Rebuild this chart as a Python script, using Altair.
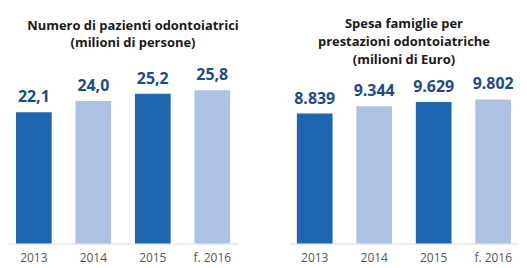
import altair as alt
import pandas as pd

years = ["2013", "2014", "2015", "f. 2016"]
patients = [22.1, 24.0, 25.2, 25.8]          # milioni di persone
spending = [8839, 9344, 9629, 9802]          # milioni di Euro

patients_labels = [f"{v:.1f}".replace(".", ",") for v in patients]
spending_labels = [f"{v:,}".replace(",", ".") for v in spending]

title_left = ["Numero di pazienti odontoiatrici", "(milioni di persone)"]
title_right = ["Spesa famiglie per", "prestazioni odontoiatriche", "(milioni di Euro)"]

FONT = "Open Sans"
DARK = "#1f66b1"
LIGHT = "#adc2e3"
LABEL = "#1d4a88"


def panel(values, labels, title_lines, ymax, offset, title_dx):
    df = pd.DataFrame({"year": years, "value": values, "label": labels})
    base = alt.Chart(df).encode(
        x=alt.X(
            "year:N",
            sort=years,
            title=None,
            scale=alt.Scale(paddingInner=0.4, paddingOuter=0.134),
            axis=alt.Axis(
                labelAngle=0,
                ticks=False,
                domainColor="#dcdcdc",
                domainWidth=1,
                labelColor="#555555",
                labelFontSize=12,
                labelFont=FONT,
                labelPadding=9,
            ),
        ),
        y=alt.Y("value:Q", scale=alt.Scale(domain=[0, ymax], nice=False), axis=None),
    )
    bars = base.mark_bar().encode(
        color=alt.Color(
            "year:N",
            scale=alt.Scale(domain=years, range=[DARK, LIGHT, DARK, LIGHT]),
            legend=None,
        )
    )
    text = base.mark_text(
        baseline="bottom",
        dy=-7,
        fontSize=16,
        fontWeight="bold",
        font=FONT,
        color=LABEL,
    ).encode(text="label:N")
    return alt.layer(bars, text).properties(
        width=231,
        height=173,
        title=alt.TitleParams(
            title_lines,
            offset=offset,
            dx=title_dx,
            fontSize=13,
            font=FONT,
            fontWeight="bold",
            color="#1a1a1a",
            lineHeight=18,
            anchor="middle",
        ),
    )


left = panel(patients, patients_labels, title_left, 29.0, 17, 10)
right = panel(spending, spending_labels, title_right, 11720, 4, 0)

chart = (
    alt.hconcat(left, right, spacing=51, bounds="flush")
    .properties(padding={"top": 10, "left": 0, "right": 0, "bottom": 2})
    .configure_view(stroke=None)
)

chart.save("out.html", embed_options={"renderer": "svg", "actions": False})
